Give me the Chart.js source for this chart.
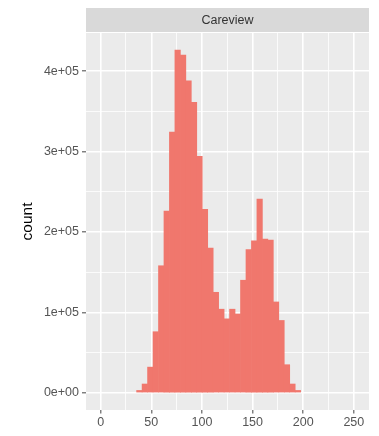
<!DOCTYPE html>
<html>
<head>
<meta charset="utf-8">
<script src="https://cdn.jsdelivr.net/npm/chart.js@4/dist/chart.umd.min.js"></script>
<style>
  html, body { margin: 0; padding: 0; background: #ffffff; }
  #wrap { width: 379px; height: 436px; }
</style>
</head>
<body>
<div id="wrap"><canvas id="c" width="379" height="436"></canvas></div>
<script>
// Facet title
const facetLabel = 'Careview';

// Histogram bins (centre of each bin, width 5.4)
const binCenters = [38.2, 43.6, 49.0, 54.4, 59.8, 65.2, 70.6, 76.0, 81.4, 86.8,
                    92.2, 97.6, 103.0, 108.4, 113.8, 119.2, 124.6, 130.0, 135.4, 140.8,
                    146.2, 151.6, 157.0, 162.4, 167.8, 173.2, 178.6, 184.0, 189.4, 194.8];

// Count per bin
const counts = [3000, 11000, 32000, 76000, 158000, 226000, 324000, 426000, 420000, 388000,
                361000, 294000, 228000, 180000, 125000, 104000, 92000, 104000, 98000, 140000,
                178000, 189000, 241000, 191000, 190000, 113000, 90000, 35000, 11000, 3000];

// Axis breaks
const xTickValues = [0, 50, 100, 150, 200, 250];
const xMinorValues = [25, 75, 125, 175, 225];
const yTickValues = [0, 100000, 200000, 300000, 400000];
const yTickLabels = ['0e+00', '1e+05', '2e+05', '3e+05', '4e+05'];
const yMinorValues = [50000, 150000, 250000, 350000];

const FONT = '"Liberation Sans", Arial, Helvetica, sans-serif';
Chart.defaults.font.family = FONT;

const peak = Math.max(...counts);

// grey panel + facet strip
const panelPlugin = {
  id: 'panel',
  beforeDraw(chart) {
    const { ctx, chartArea: a } = chart;
    ctx.save();
    ctx.fillStyle = '#ffffff';
    ctx.fillRect(0, 0, chart.width, chart.height);
    ctx.fillStyle = '#EBEBEB';
    ctx.fillRect(a.left, a.top, a.right - a.left, a.bottom - a.top);
    ctx.fillStyle = '#D9D9D9';
    ctx.fillRect(a.left, a.top - 25, a.right - a.left, 24);
    ctx.fillStyle = '#333333';
    ctx.font = '12.5px ' + FONT;
    ctx.textAlign = 'center';
    ctx.textBaseline = 'middle';
    ctx.fillText(facetLabel, (a.left + a.right) / 2, a.top - 12.5);
    ctx.restore();
  }
};

const isMajor = (list, v) => list.includes(v);

new Chart(document.getElementById('c'), {
  type: 'bar',
  data: {
    datasets: [{
      data: binCenters.map((c, i) => ({ x: c, y: counts[i] })),
      backgroundColor: '#F0776D',
      borderWidth: 0,
      barPercentage: 1,
      categoryPercentage: 1
    }]
  },
  options: {
    responsive: false,
    animation: false,
    devicePixelRatio: 1,
    layout: { padding: { top: 33, right: 10, left: 0, bottom: 0 } },
    plugins: { legend: { display: false }, tooltip: { enabled: false } },
    scales: {
      x: {
        type: 'linear',
        offset: false,
        min: -14.5,
        max: 265,
        afterBuildTicks: s => {
          s.ticks = [...xTickValues, ...xMinorValues].sort((a, b) => a - b).map(v => ({ value: v }));
        },
        afterFit: s => { s.height = 26; },
        border: { display: false },
        grid: {
          offset: false,
          color: '#ffffff',
          lineWidth: c => (c.tick && isMajor(xTickValues, c.tick.value)) ? 1.6 : 0.8,
          tickLength: 3.5,
          tickWidth: 1.1,
          tickColor: c => (c.tick && isMajor(xTickValues, c.tick.value)) ? '#555555' : 'rgba(0,0,0,0)'
        },
        ticks: {
          autoSkip: false,
          maxRotation: 0,
          padding: 2,
          color: '#555555',
          font: { size: 12.5 },
          callback: v => isMajor(xTickValues, v) ? String(v) : ''
        }
      },
      y: {
        type: 'linear',
        min: -0.05 * peak,
        max: 1.05 * peak,
        afterBuildTicks: s => {
          s.ticks = [...yTickValues, ...yMinorValues].sort((a, b) => a - b).map(v => ({ value: v }));
        },
        afterFit: s => { s.width = 86; },
        border: { display: false },
        grid: {
          color: '#ffffff',
          lineWidth: c => (c.tick && isMajor(yTickValues, c.tick.value)) ? 1.6 : 0.8,
          tickLength: 4,
          tickWidth: 1.1,
          tickColor: c => (c.tick && isMajor(yTickValues, c.tick.value)) ? '#555555' : 'rgba(0,0,0,0)'
        },
        ticks: {
          autoSkip: false,
          padding: 3,
          color: '#555555',
          font: { size: 12.5 },
          callback: v => {
            const i = yTickValues.indexOf(v);
            return i >= 0 ? yTickLabels[i] : '';
          }
        },
        title: {
          display: true,
          text: 'count',
          color: '#000000',
          font: { size: 15.5 },
          padding: { top: 18, bottom: 0 }
        }
      }
    }
  },
  plugins: [panelPlugin]
});
</script>
</body>
</html>
